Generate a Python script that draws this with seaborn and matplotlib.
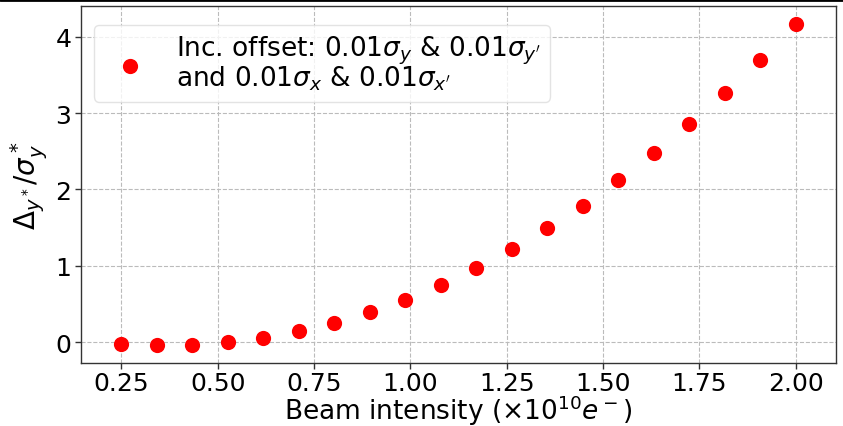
import numpy as np
import pandas as pd
import matplotlib
matplotlib.use("Agg")
import matplotlib.pyplot as plt
import seaborn as sns
from matplotlib.lines import Line2D

intensity = [0.25, 0.342, 0.434, 0.526, 0.618, 0.711, 0.803, 0.895, 0.987, 1.079,
             1.171, 1.263, 1.355, 1.447, 1.539, 1.632, 1.724, 1.816, 1.908, 2.0]
ratio = [-0.02, -0.035, -0.035, 0.0, 0.056, 0.144, 0.253, 0.393, 0.558, 0.751,
         0.978, 1.222, 1.494, 1.79, 2.118, 2.477, 2.857, 3.26, 3.70, 4.16]
x_ticks = [0.25, 0.50, 0.75, 1.00, 1.25, 1.50, 1.75, 2.00]
y_ticks = [0, 1, 2, 3, 4]
label = "Inc. offset: $0.01\\sigma_y$ & $0.01\\sigma_{y'}$\nand $0.01\\sigma_x$ & $0.01\\sigma_{x'}$"

df = pd.DataFrame({"x": intensity, "y": ratio})

sns.set_style("white")
plt.rcParams['font.family'] = ['DejaVu Sans']
plt.rcParams['text.color'] = 'black'
plt.rcParams['axes.labelcolor'] = 'black'
plt.rcParams['xtick.color'] = 'black'
plt.rcParams['ytick.color'] = 'black'

fig = plt.figure(figsize=(8.43, 4.27), dpi=100)
ax = fig.add_axes([0.0961, 0.1475, 0.8956, 0.8361])

sns.scatterplot(data=df, x="x", y="y", ax=ax, color="red", s=120,
                linewidth=0, label=label, zorder=3)

ax.set_xlim(0.145, 2.105)
ax.set_ylim(-0.27, 4.40)
ax.set_xticks(x_ticks)
ax.set_xticklabels([f"{t:.2f}" for t in x_ticks])
ax.set_yticks(y_ticks)
ax.tick_params(axis="both", labelsize=18, direction="out", length=4, width=1,
               color="#333333", labelcolor="black", left=True, bottom=True, pad=3)
ax.tick_params(axis="x", pad=1.5)
ax.grid(True, linestyle="--", color="#bbbbbb", linewidth=0.8)
ax.set_axisbelow(True)
for s in ax.spines.values():
    s.set_color("#333333")
    s.set_linewidth(1.0)

ax.set_xlabel("Beam intensity ($\\times10^{10}e^-$)", fontsize=19, labelpad=-1.5)
ax.set_ylabel("$\\Delta_{y^*}/\\sigma_y^*$", fontsize=20, labelpad=4)

leg = ax.legend(loc="upper left", fontsize=19, frameon=True, framealpha=0.8,
                handletextpad=0.75, borderpad=0.35, markerscale=1.0,
                bbox_to_anchor=(0.0, 0.985))
leg.get_frame().set_edgecolor("#dddddd")
for t in leg.get_texts():
    t.set_linespacing(0.9)

fig.add_artist(Line2D([0, 1], [0.998, 0.998], transform=fig.transFigure,
                      color="black", linewidth=2))

fig.savefig("out.png", dpi=100)
